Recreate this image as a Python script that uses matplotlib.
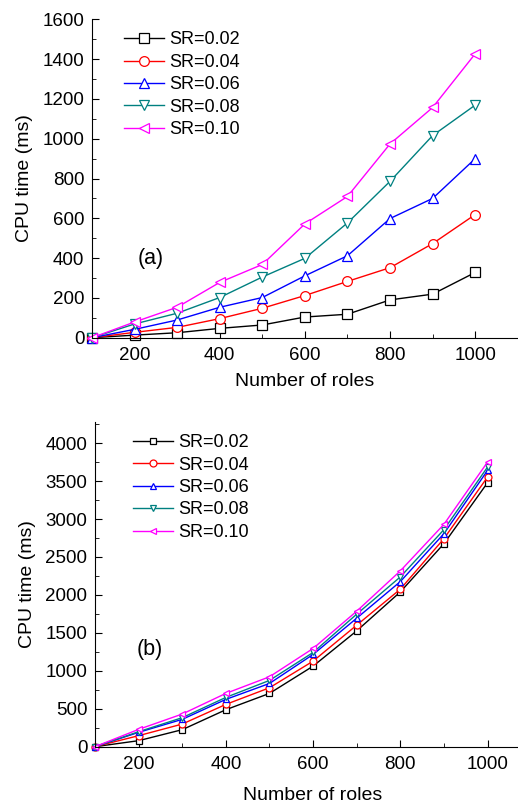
import numpy as np
import matplotlib.pyplot as plt
from matplotlib.ticker import MultipleLocator

plt.rcParams['font.family'] = ['Liberation Sans', 'DejaVu Sans']

roles = [100, 200, 300, 400, 500, 600, 700, 800, 900, 1000]
labels = ['SR=0.02', 'SR=0.04', 'SR=0.06', 'SR=0.08', 'SR=0.10']

# (a)
a_002 = [0, 13, 25, 47, 64, 104, 118, 190, 219, 328]
a_004 = [0, 27, 52, 96, 148, 212, 283, 352, 473, 619]
a_006 = [0, 42, 89, 153, 202, 311, 412, 599, 700, 900]
a_008 = [0, 69, 123, 202, 305, 399, 577, 786, 1016, 1169]
a_010 = [0, 79, 153, 278, 368, 572, 710, 974, 1157, 1427]

# (b)
b_002 = [0, 79, 224, 487, 702, 1061, 1526, 2039, 2675, 3478]
b_004 = [0, 145, 298, 557, 776, 1127, 1601, 2075, 2741, 3553]
b_006 = [0, 189, 360, 623, 833, 1215, 1693, 2175, 2807, 3640]
b_008 = [0, 197, 382, 649, 873, 1241, 1746, 2237, 2860, 3684]
b_010 = [0, 228, 430, 702, 921, 1294, 1785, 2316, 2930, 3750]

colors = ['black', 'red', 'blue', '#008080', 'magenta']
markers = ['s', 'o', '^', 'v', '<']

fig = plt.figure(figsize=(5.18, 8.06), dpi=100)
ax1 = fig.add_axes([0.1776, 0.581, 0.822, 0.395])
ax2 = fig.add_axes([0.1834, 0.0736, 0.842, 0.403])

def draw(ax, series, ms, ymax, ymaj, ymin, tag, tagpos, legpos, xlpad):
    for y, c, m, lab in zip(series, colors, markers, labels):
        ax.plot(roles, y, color=c, marker=m, ms=ms, mfc='white', mec=c,
                mew=0.9, lw=1.0, label=lab, clip_on=False)
    ax.set_xlim(100, 1100)
    ax.set_ylim(0, ymax)
    ax.xaxis.set_major_locator(MultipleLocator(200))
    ax.xaxis.set_minor_locator(MultipleLocator(100))
    ax.yaxis.set_major_locator(MultipleLocator(ymaj))
    ax.yaxis.set_minor_locator(MultipleLocator(ymin))
    ax.spines['top'].set_visible(False)
    ax.spines['right'].set_visible(False)
    ax.tick_params(which='both', direction='in', labelsize=13.5, pad=5.5)
    ax.tick_params(axis='x', which='both', pad=7)
    ax.tick_params(which='major', length=5)
    ax.tick_params(which='minor', length=3)
    ax.set_xlabel('Number of roles', fontsize=14, labelpad=xlpad)
    ax.set_ylabel('CPU time (ms)', fontsize=14, labelpad=7)
    ax.text(tagpos[0], tagpos[1], tag, transform=ax.transAxes, fontsize=15.5,
            va='center')
    ax.legend(loc='upper left', bbox_to_anchor=legpos, frameon=False,
              fontsize=13, handlelength=2.2, handletextpad=0.3,
              labelspacing=0.3, borderaxespad=0, borderpad=0)

draw(ax1, [a_002, a_004, a_006, a_008, a_010], 7, 1600, 200, 100, '(a)',
     (0.106, 0.25), (0.075, 0.962), 6)
draw(ax2, [b_002, b_004, b_006, b_008, b_010], 5, 4280, 500, 250, '(b)',
     (0.096, 0.30), (0.087, 0.962), 10)

fig.savefig('out.png', dpi=100)
